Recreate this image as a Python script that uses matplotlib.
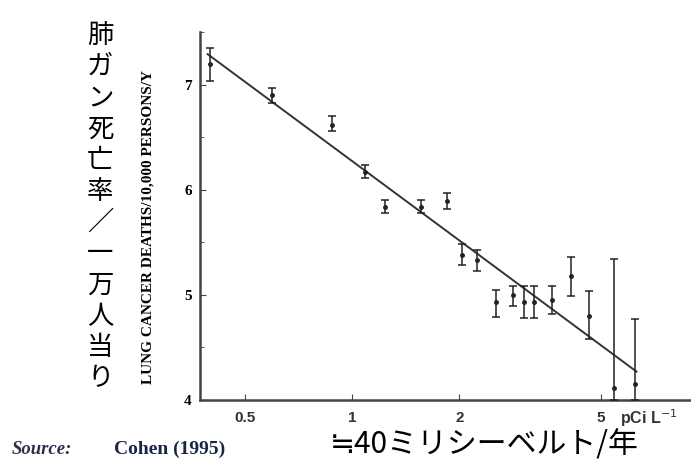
import matplotlib
matplotlib.use("Agg")
import matplotlib.pyplot as plt
from matplotlib.ticker import FixedLocator, NullLocator

# 平均ラドン濃度 (pCi/L) と肺ガン死亡率 (Cohen 1995)
radon = [0.399, 0.594, 0.879, 1.083, 1.232, 1.562, 1.843, 2.037, 2.244, 2.538,
         2.838, 3.034, 3.236, 3.636, 4.124, 4.64, 5.43, 6.25]
deaths = [7.20, 6.90, 6.62, 6.17, 5.84, 5.84, 5.89, 5.38, 5.33, 4.93, 5.00,
          4.93, 4.93, 4.95, 5.18, 4.80, 4.11, 4.15]
err_lo = [0.17, 0.07, 0.06, 0.06, 0.06, 0.06, 0.07, 0.10, 0.10, 0.14, 0.11,
          0.15, 0.15, 0.13, 0.19, 0.22, 0.11, 0.15]
err_hi = [0.15, 0.07, 0.08, 0.07, 0.06, 0.06, 0.08, 0.10, 0.10, 0.12, 0.08,
          0.15, 0.15, 0.13, 0.18, 0.24, 1.23, 0.62]

# 回帰直線の両端
fit_x = [0.392, 6.30]
fit_y = [7.29, 4.27]

x_ticks = [0.5, 1, 2, 5]
x_labels = ["0.5", "1", "2", "5"]
y_ticks = [4, 5, 6, 7]
y_minor = [4.5, 5.5, 6.5, 7.5]

fig = plt.figure(figsize=(6.91, 4.65), dpi=100)
ax = fig.add_axes([0.2894, 0.1398, 0.709, 0.7912])

ax.plot(fit_x, fit_y, color="#333333", linewidth=1.4, zorder=2)
ax.errorbar(radon, deaths, yerr=[err_lo, err_hi], fmt="o", color="#222222",
            markersize=2.5, elinewidth=1.1, capsize=3, capthick=1.1, zorder=3)

ax.set_xscale("log")
ax.set_xlim(0.373, 8.9)
ax.set_ylim(4.0, 7.5)

ax.xaxis.set_major_locator(FixedLocator(x_ticks))
ax.xaxis.set_minor_locator(NullLocator())
ax.set_xticklabels(x_labels)
ax.yaxis.set_major_locator(FixedLocator(y_ticks))
ax.yaxis.set_minor_locator(FixedLocator(y_minor))

for side in ("top", "right"):
    ax.spines[side].set_visible(False)
for side in ("left", "bottom"):
    ax.spines[side].set_linewidth(1.8)
    ax.spines[side].set_color("#444444")

ax.tick_params(axis="both", which="both", direction="in", color="#444444")
ax.tick_params(axis="x", which="major", length=4, pad=8, labelsize=11)
ax.tick_params(axis="y", which="major", length=4, pad=6, labelsize=11)
ax.tick_params(axis="y", which="minor", length=3)
for lab in ax.get_xticklabels():
    lab.set_family("Liberation Sans")
    lab.set_fontweight("bold")
    lab.set_color("#333333")
for lab in ax.get_yticklabels():
    lab.set_family("Liberation Serif")
    lab.set_fontweight("bold")

ax.set_ylabel("LUNG CANCER DEATHS/10,000 PERSONS/Y", family="Liberation Serif",
              fontweight="bold", fontsize=11)
ax.yaxis.set_label_coords(-0.092, 0.47)

fig.text(0.897, 0.101, "pCi L$^{-1}$", family="Liberation Sans", fontsize=11.5,
         fontweight="bold", ha="left", va="center", color="#333333")

# 縦書きの日本語ラベル
jp_label = "肺ガン死亡率／一万人当り"
fig.text(0.145, 0.555, "\n".join(jp_label), family=["Noto Sans CJK JP", "DejaVu Sans"],
         fontsize=19, ha="center", va="center", linespacing=1.2)

fig.text(0.017, 0.034, "Source:", family="Liberation Serif", style="italic",
         fontweight="bold", fontsize=13.5, color="#2a3050", ha="left", va="center")
fig.text(0.165, 0.034, "Cohen (1995)", family="Liberation Serif", fontweight="bold",
         fontsize=14, color="#1a2448", ha="left", va="center")
fig.text(0.478, 0.042, "≒40ミリシーベルト/年", family=["Noto Sans CJK JP", "DejaVu Sans"],
         fontsize=21.5, ha="left", va="center")

fig.savefig("out.png", dpi=100)
